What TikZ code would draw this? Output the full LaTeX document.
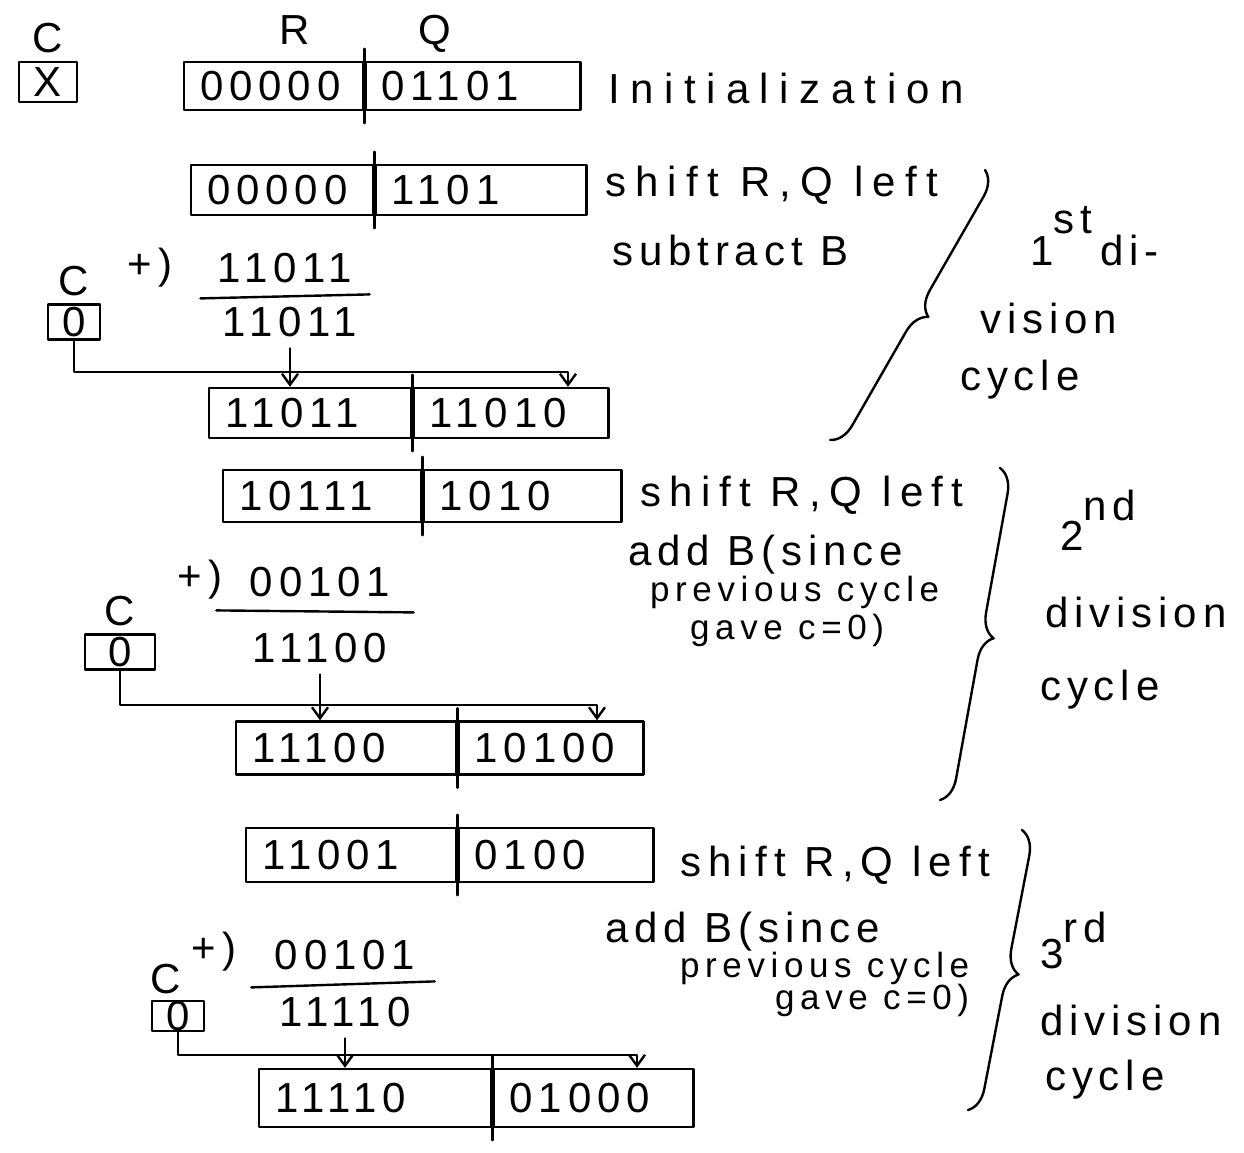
\documentclass[tikz,border=0pt]{standalone}
\usepackage{fontspec}
\setmainfont{Liberation Sans}[LetterSpace=14]
\usetikzlibrary{positioning,calc,arrows.meta,decorations.pathreplacing}

\tikzset{
  hand/.style={line width=2.4pt, line cap=round, line join=round},
  big/.style={font=\fontsize{42}{48}\selectfont},
  wide/.style={font=\fontsize{42}{48}\selectfont\addfontfeatures{LetterSpace=#1}},
  small/.style={font=\fontsize{35}{40}\selectfont\addfontfeatures{LetterSpace=16}},
  half/.style={hand, draw, big, inner xsep=16pt, inner ysep=0pt, text width=#1, align=left, anchor=west},
  cbox/.style={hand, draw, big, inner sep=0pt},
  lbl/.style={big, anchor=west, inner sep=0pt},
  carry/.style={hand, -{Straight Barb[length=11pt,width=16pt]}},
  brc/.style={hand, decorate, decoration={brace, amplitude=24pt}},
}

\begin{document}
\begin{tikzpicture}[x=1pt, y=-1pt]
    \useasboundingbox (0,0) rectangle (1244,1153);

    % carry flag and register names
    \node[cbox, minimum width=58pt, minimum height=40pt] (c0) at (48,82) {X};
    \node[big, above=4pt of c0] {C};
    \node[big, anchor=base] (nameR) at (295,45) {R};
    \node[big, anchor=base] (nameQ) at (435,45) {Q};

    % registers R | Q
    \node[half=147, minimum height=48pt] (r1) at (183,86) {00000};
    \node[half=183, minimum height=48pt, right=0pt of r1] (q1) {01101};
    \node[half=150, minimum height=50pt] (r2) at (190,190) {00000};
    \node[half=179, minimum height=50pt, right=0pt of r2] (q2) {1101};
    \node[half=170, minimum height=50pt] (r3) at (208,413) {11011};
    \node[half=163, minimum height=50pt, right=0pt of r3] (q3) {11010};
    \node[half=166, minimum height=52pt] (r4) at (222,496) {10111};
    \node[half=166, minimum height=52pt, right=0pt of r4] (q4) {1010};
    \node[half=188, minimum height=53pt] (r5) at (235,748) {11100};
    \node[half=153, minimum height=53pt, right=0pt of r5] (q5) {10100};
    \node[half=178, minimum height=54pt] (r6) at (245,855) {11001};
    \node[half=163, minimum height=54pt, right=0pt of r6] (q6) {0100};
    \node[half=200, minimum height=58pt] (r7) at (258,1098) {11110};
    \node[half=168, minimum height=58pt, right=0pt of r7] (q7) {01000};
    \foreach \i in {1,...,7}
        \draw[hand] ([yshift=12pt]r\i.north east) -- ([yshift=-12pt]r\i.south east);

    % 1st cycle
    \node[big] (p1) at (150,268) {+)};
    \node[big] (s1a) at (285,268) {11011};
    \draw[hand] ([xshift=-14pt,yshift=-12pt]s1a.south west) -- ([xshift=14pt,yshift=-8pt]s1a.south east);
    \node[big] (s1r) at (290,322) {11011};
    \node[cbox, minimum width=52pt, minimum height=35pt] (c1) at (74,322) {0};
    \node[big, above=4pt of c1] {C};
    \coordinate (k1) at (568,372);
    \draw[carry] (c1.south) |- (k1) -- (k1 |- q3.north);
    \draw[carry, shorten <=8pt] (s1r.south) -- (s1r.south |- r3.north);

    % 2nd cycle
    \node[big] (p2) at (200,580) {+)};
    \node[big] (s2a) at (320,582) {00101};
    \draw[hand] ([xshift=-30pt,yshift=-10pt]s2a.south west) -- ([xshift=20pt,yshift=-12pt]s2a.south east);
    \node[big] (s2r) at (320,648) {11100};
    \node[cbox, minimum width=70pt, minimum height=35pt] (c2) at (120,652) {0};
    \node[big, above=4pt of c2] {C};
    \coordinate (k2) at (597,705);
    \draw[carry] (c2.south) |- (k2) -- (k2 |- q5.north);
    \draw[carry, shorten <=8pt] (s2r.south) -- (s2r.south |- r5.north);

    % 3rd cycle
    \node[big] (p3) at (214,952) {+)};
    \node[big] (s3a) at (345,955) {00101};
    \draw[hand] ([xshift=-20pt,yshift=-14pt]s3a.south west) -- ([xshift=16pt,yshift=-8pt]s3a.south east);
    \node[big] (s3r) at (345,1012) {11110};
    \node[cbox, minimum width=52pt, minimum height=28pt] (c3) at (178,1016) {0};
    \node[big, anchor=south, inner sep=0pt] at (166,994) {C};
    \coordinate (k3) at (637,1055);
    \draw[carry] (c3.south) |- (k3) -- (k3 |- q7.north);
    \draw[carry, shorten <=8pt] (s3r.south) -- (s3r.south |- r7.north);

    % steps
    \node[lbl, wide=25] (t0) at (608,88) {Initialization};
    \node[lbl, wide=22] (t1) at (605,185) {shift R,Q left};
    \node[lbl] (t2) at (612,250) {subtract B};
    \node[lbl, wide=20] (t3) at (640,495) {shift R,Q left};
    \node[lbl] (t4) at (628,555) {add B(since};
    \node[lbl, small] (t5) at (650,592) {previous cycle};
    \node[lbl, small] (t6) at (690,630) {gave c=0)};
    \node[lbl, wide=17] (t7) at (680,865) {shift R,Q left};
    \node[lbl] (t8) at (605,932) {add B(since};
    \node[lbl, small] (t9) at (680,968) {previous cycle};
    \node[lbl, small] (t10) at (775,1000) {gave c=0)};

    % cycles
    \draw[brc] (985,170) -- (830,440);
    \draw[brc] (1000,468) -- (940,800);
    \draw[brc] (1022,830) -- (968,1110);
    \node[lbl, anchor=base west] (n1) at (1030,265) {1\raisebox{0.75em}{st}\hspace{8pt}di-};
    \node[lbl] (n2) at (980,318) {vision};
    \node[lbl] (n3) at (960,380) {cycle};
    \node[lbl, anchor=base west] (n4) at (1060,550) {2\raisebox{0.7em}{nd}};
    \node[lbl] (n5) at (1045,612) {division};
    \node[lbl] (n6) at (1040,690) {cycle};
    \node[lbl, anchor=base west] (n7) at (1040,968) {3\raisebox{0.6em}{rd}};
    \node[lbl] (n8) at (1040,1020) {division};
    \node[lbl] (n9) at (1045,1080) {cycle};
\end{tikzpicture}
\end{document}
